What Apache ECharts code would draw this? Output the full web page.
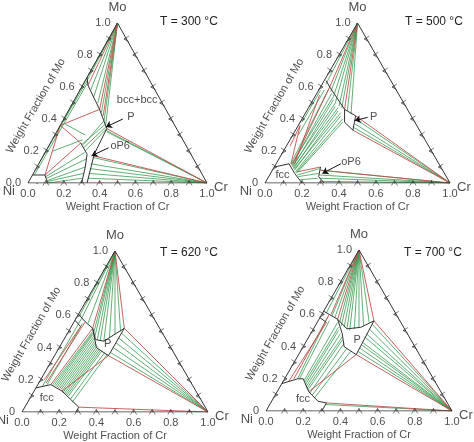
<!DOCTYPE html>
<html>
<head>
<meta charset="utf-8">
<script src="https://cdn.jsdelivr.net/npm/echarts@6/dist/echarts.min.js"></script>
<style>
  html, body { margin: 0; padding: 0; background: #fff; }
  #main { width: 474px; height: 442px; }
</style>
</head>
<body>
<div id="main"></div>
<script>
// compositions are [Cr, Mo] weight fractions (Ni = remainder)
const MO = [0, 1];
const CR = [1, 0];
const temps = ['300', '500', '620', '700'];
const bottomLabels = ['0.0', '0.2', '0.4', '0.6', '0.8', '1.0'];
const bottomValues = [0, 0.2, 0.4, 0.6, 0.8, 1.0];
const tickValues = [0.1, 0.2, 0.3, 0.4, 0.5, 0.6, 0.7, 0.8, 0.9];

// ---- T = 300 C
const p1Black = [
  [[0, 0.05], [0.07, 0.05], [0.11, 0]],
  [[0.17, 0.25], [0.24, 0.18], [0.27, 0.1], [0.30, 0]],
  [[0.27, 0.34], [0.28, 0.18], [0.33, 0]],
  [[0, 0.66], [0.03, 0.61], [0.17, 0.46], [0.27, 0.34]]
];
const p1Red = [
  [[0, 0.36], [0.17, 0.46]], [[0, 0.36], [0.17, 0.25]], [[0.17, 0.25], [0.07, 0.05]],
  [[0, 0.36], [0.07, 0.05]], [MO, [0.17, 0.46]], [MO, [0.03, 0.61]], [MO, [0.21, 0.42]],
  [CR, [0.27, 0.34]], [CR, [0.28, 0.17]]
];
const p1MoFan = [[0.19, 0.44], [0.23, 0.39], [0.25, 0.37], [0.06, 0.58], [0.1, 0.53], [0.14, 0.5], [0.01, 0.64], [0.0, 0.4]];
const p1CrFan = [[0.28, 0.16], [0.29, 0.12], [0.30, 0.09], [0.31, 0.06], [0.32, 0.03], [0.27, 0.33], [0.28, 0.32]];
const p1Ties = [
  [[0.02, 0.63], [0.01, 0.05]], [[0.01, 0.64], [0.0, 0.12]],
  [[0.18, 0.24], [0.25, 0.37]], [[0.2, 0.22], [0.26, 0.35]], [[0.22, 0.2], [0.27, 0.34]], [[0.19, 0.24], [0.23, 0.39]],
  [[0.02, 0.37], [0.17, 0.3]], [[0.04, 0.2], [0.17, 0.27]],
  [[0.08, 0.04], [0.22, 0.19]], [[0.09, 0.03], [0.25, 0.15]], [[0.10, 0.015], [0.27, 0.1]],
  [[0.105, 0.01], [0.28, 0.06]], [[0.11, 0], [0.29, 0.03]]
];

// ---- T = 500 C
const p2Black = [
  [[0, 0.1], [0.07, 0.12], [0.13, 0.06], [0.2, 0]],
  [[0.25, 0.10], [0.27, 0.04], [0.32, 0]],
  [[0.2, 0.46], [0.28, 0.42], [0.31, 0.33], [0.24, 0.38], [0.2, 0.46]],
  [[0.01, 0.64], [0.05, 0.6], [0.2, 0.46]]
];
const p2Red = [
  [[0.01, 0.36], [0.08, 0.12]], [[0.01, 0.36], [0.02, 0.23]], [[0.05, 0.6], [0.09, 0.12]], [[0.02, 0.55], [0.1, 0.12]],
  [MO, [0.2, 0.46]], [MO, [0.05, 0.6]], [CR, [0.28, 0.42]], [CR, [0.31, 0.33]], [CR, [0.26, 0.08]],
  [[0.14, 0.07], [0.25, 0.1]]
];
const p2MoFan = [[0.07, 0.57], [0.1, 0.54], [0.13, 0.5], [0.16, 0.48], [0.18, 0.47], [0.22, 0.45], [0.25, 0.43], [0.02, 0.62]];
const p2CrFan = [[0.29, 0.4], [0.3, 0.37], [0.3, 0.35], [0.26, 0.08], [0.27, 0.05], [0.28, 0.03], [0.3, 0.01]];
const p2Ties = [
  [[0.08, 0.12], [0.05, 0.59]], [[0.09, 0.11], [0.08, 0.56]], [[0.1, 0.1], [0.11, 0.52]], [[0.11, 0.09], [0.14, 0.48]],
  [[0.12, 0.08], [0.17, 0.45]], [[0.13, 0.07], [0.2, 0.42]], [[0.14, 0.06], [0.23, 0.38]], [[0.085, 0.115], [0.1, 0.54]],
  [[0.095, 0.105], [0.13, 0.5]], [[0.105, 0.095], [0.16, 0.47]], [[0.115, 0.085], [0.19, 0.44]], [[0.135, 0.065], [0.22, 0.4]],
  [[0.15, 0.05], [0.25, 0.09]], [[0.16, 0.04], [0.26, 0.06]], [[0.18, 0.02], [0.27, 0.03]],
  [[0.01, 0.58], [0.01, 0.38]], [[0.03, 0.58], [0.03, 0.3]]
];

// ---- T = 620 C
const p3Black = [
  [[0, 0.15], [0.07, 0.17], [0.15, 0.13], [0.22, 0.08], [0.29, 0.03], [0.29, 0]],
  [[0.12, 0.52], [0.17, 0.45], [0.22, 0.44], [0.29, 0.52]],
  [[0.12, 0.52], [0.2, 0.4], [0.29, 0.35]], [[0.29, 0.52], [0.29, 0.35]],
  [[0.01, 0.6], [0.06, 0.56], [0.12, 0.52]], [[0.0, 0.57], [0.05, 0.53]]
];
const p3Red = [
  [MO, [0.29, 0.52]], [MO, [0.12, 0.52]], [CR, [0.29, 0.52]], [CR, [0.29, 0.35]], [CR, [0.29, 0.03]],
  [[0.07, 0.17], [0.12, 0.52]], [[0.15, 0.13], [0.29, 0.35]], [[0.02, 0.2], [0.05, 0.53]], [[0.04, 0.18], [0.06, 0.56]]
];
const p3MoFan = [[0.14, 0.49], [0.16, 0.46], [0.18, 0.45], [0.2, 0.44], [0.22, 0.44], [0.24, 0.46], [0.26, 0.48], [0.28, 0.5], [0.01, 0.6], [0.03, 0.58], [0.08, 0.55]];
const p3CrFan = [[0.29, 0.49], [0.29, 0.46], [0.29, 0.43], [0.29, 0.4], [0.29, 0.37]];
const p3Ties = [
  [[0.08, 0.17], [0.13, 0.5]], [[0.1, 0.16], [0.14, 0.48]], [[0.12, 0.15], [0.16, 0.46]], [[0.14, 0.14], [0.18, 0.43]],
  [[0.16, 0.12], [0.2, 0.41]], [[0.18, 0.11], [0.22, 0.39]], [[0.2, 0.1], [0.24, 0.38]], [[0.22, 0.08], [0.26, 0.37]],
  [[0.24, 0.06], [0.28, 0.36]], [[0.09, 0.165], [0.135, 0.49]], [[0.11, 0.155], [0.15, 0.47]], [[0.13, 0.145], [0.17, 0.44]],
  [[0.15, 0.13], [0.19, 0.42]], [[0.17, 0.115], [0.21, 0.4]], [[0.19, 0.105], [0.23, 0.385]],
  [[0.03, 0.58], [0.03, 0.16]], [[0.05, 0.55], [0.05, 0.17]]
];

// ---- T = 700 C
const p4Black = [
  [[0, 0.17], [0.07, 0.2], [0.1, 0.2], [0.17, 0.12], [0.25, 0.06], [0.3, 0.05], [0.3, 0]],
  [[0.1, 0.57], [0.18, 0.51], [0.25, 0.52], [0.3, 0.56]],
  [[0.3, 0.56], [0.31, 0.35]], [[0.1, 0.57], [0.17, 0.48], [0.22, 0.4], [0.31, 0.35]],
  [[0.0, 0.62], [0.04, 0.6], [0.1, 0.57]], [[0.0, 0.58], [0.05, 0.55]]
];
const p4Red = [
  [MO, [0.3, 0.56]], [MO, [0.1, 0.57]], [MO, [0.05, 0.6]], [CR, [0.3, 0.56]], [CR, [0.31, 0.35]],
  [[0.3, 0.05], CR], [[0.17, 0.12], [0.31, 0.35]], [[0.05, 0.2], [0.04, 0.6]], [[0.03, 0.18], [0.05, 0.55]]
];
const p4MoFan = [[0.12, 0.55], [0.14, 0.53], [0.16, 0.52], [0.18, 0.51], [0.2, 0.5], [0.22, 0.51], [0.24, 0.52], [0.26, 0.53], [0.28, 0.55], [0.02, 0.61], [0.06, 0.59], [0.08, 0.58]];
const p4CrFan = [[0.3, 0.54], [0.3, 0.51], [0.3, 0.48], [0.3, 0.46], [0.3, 0.43], [0.31, 0.41], [0.31, 0.39], [0.31, 0.37], [0.3, 0.04]];
const p4Ties = [
  [[0.11, 0.19], [0.11, 0.55]], [[0.12, 0.18], [0.13, 0.52]], [[0.13, 0.16], [0.14, 0.5]], [[0.14, 0.15], [0.16, 0.48]],
  [[0.15, 0.14], [0.18, 0.46]], [[0.16, 0.13], [0.19, 0.44]], [[0.18, 0.11], [0.21, 0.42]], [[0.2, 0.1], [0.24, 0.39]],
  [[0.22, 0.08], [0.27, 0.37]], [[0.04, 0.58], [0.07, 0.2]], [[0.06, 0.56], [0.08, 0.2]]
];

// phase labels [Cr, Mo, text] and arrows
const p1Labels = [[0.35, 0.52, 'bcc+bcc'], [0.37, 0.41, 'P'], [0.4, 0.23, 'oP6'], [0.14, -0.1, 'fcc']];
const p1Arrows = [[[0.33, 0.40], [0.26, 0.35]], [[0.34, 0.22], [0.27, 0.17]], [[0.1, -0.07], [0.05, 0]]];
const p2Labels = [[0.38, 0.415, 'P'], [0.40, 0.13, 'oP6'], [0.07, 0.05, 'fcc']];
const p2Arrows = [[[0.35, 0.41], [0.29, 0.39]], [[0.35, 0.12], [0.28, 0.06]]];
const p3Labels = [[0.25, 0.42, 'P'], [0.09, 0.087, 'fcc']];
const p4Labels = [[0.27, 0.44, 'P'], [0.16, 0.077, 'fcc']];

const panels = [
  { grid: { left: 28, top: 23, width: 179, height: 160 }, black: p1Black, red: p1Red, moFan: p1MoFan, crFan: p1CrFan, ties: p1Ties, labels: p1Labels, arrows: p1Arrows, zero: '0.0', tpos: [160, 16] },
  { grid: { left: 265, top: 23, width: 185, height: 160 }, black: p2Black, red: p2Red, moFan: p2MoFan, crFan: p2CrFan, ties: p2Ties, labels: p2Labels, arrows: p2Arrows, zero: '0', tpos: [405, 16] },
  { grid: { left: 22, top: 251, width: 186, height: 161 }, black: p3Black, red: p3Red, moFan: p3MoFan, crFan: p3CrFan, ties: p3Ties, labels: p3Labels, arrows: [], zero: '0', tpos: [160, 247] },
  { grid: { left: 266, top: 250, width: 186, height: 161 }, black: p4Black, red: p4Red, moFan: p4MoFan, crFan: p4CrFan, ties: p4Ties, labels: p4Labels, arrows: [], zero: '0', tpos: [404, 247] }
];

// ternary -> plot coordinates
const xy = p => [p[0] + p[1] / 2, p[1]];
const FONT = 'Liberation Sans, Arial, sans-serif';
const GREEN = '#3a9a50', RED = '#c0504d', DARK = '#333';

const grids = [], xAxes = [], yAxes = [], series = [], graphics = [];

panels.forEach((pn, i) => {
  grids.push(pn.grid);
  xAxes.push({ gridIndex: i, type: 'value', min: 0, max: 1, show: false });
  yAxes.push({ gridIndex: i, type: 'value', min: 0, max: 1, show: false });
  const ax = { xAxisIndex: i, yAxisIndex: i };
  const lines = (segs, color, width, z) => ({
    type: 'lines', coordinateSystem: 'cartesian2d', ...ax, polyline: true, silent: true, z: z,
    lineStyle: { color: color, width: width, opacity: 1 },
    data: segs.map(s => ({ coords: s.map(xy) }))
  });
  const green = pn.ties.concat(pn.moFan.map(p => [MO, p]), pn.crFan.map(p => [CR, p]));
  series.push(lines(green, GREEN, 0.8, 2));
  series.push(lines(pn.red, RED, 0.9, 3));
  series.push(lines(pn.black, DARK, 1, 4));
  series.push(lines([[[0, 0], [1, 0], [0, 1], [0, 0]]], DARK, 1, 5));
  if (pn.arrows.length) {
    series.push({
      type: 'lines', coordinateSystem: 'cartesian2d', ...ax, silent: true, z: 6,
      symbol: ['none', 'arrow'], symbolSize: 6,
      lineStyle: { color: '#111', width: 1, opacity: 1 },
      data: pn.arrows.map(s => ({ coords: s.map(xy) }))
    });
  }
  // edge ticks
  const tick = (pts, rot) => ({
    type: 'scatter', ...ax, silent: true, z: 5,
    symbol: 'path://M0,10 L5,0 L10,10 M5,0 L5,6', symbolSize: [6, 5], symbolRotate: rot,
    itemStyle: { color: 'none', borderColor: DARK, borderWidth: 0.8 },
    data: pts
  });
  series.push(tick(tickValues.map(c => xy([c, 0])), 0));
  series.push(tick(tickValues.map(m => xy([0, m])), -90));
  series.push(tick(tickValues.map(m => xy([1 - m, m])), 90));
  // tick labels
  const txt = (data, pos, offset, extra) => ({
    type: 'scatter', ...ax, silent: true, symbolSize: 0, z: 7,
    label: Object.assign({ show: true, position: pos, offset: offset, color: '#222', fontSize: 11, fontFamily: FONT, formatter: p => p.data[2] }, extra || {}),
    data: data
  });
  series.push(txt(bottomValues.map((v, k) => [v, 0, bottomLabels[k]]), 'bottom', [0, 0]));
  series.push(txt(bottomValues.map((v, k) => [v / 2, v, k === 0 ? pn.zero : bottomLabels[k]]), 'left', [-2, 0]));
  series.push(txt([[0, 0, 'Ni']], 'left', [-8, 8], { fontSize: 13 }));
  series.push(txt([[1, 0, 'Cr']], 'right', [2, 4], { fontSize: 13 }));
  series.push(txt([[0.5, 1, 'Mo']], 'top', [0, -4], { fontSize: 13 }));
  series.push(txt([[0.5, 0, 'Weight Fraction of Cr']], 'bottom', [0, 13]));
  series.push(txt([[0.22, 0.5, 'Weight Fraction of Mo']], 'left', [-8, -4], { rotate: 60, align: 'center', verticalAlign: 'middle', position: [-24, -2] }));
  series.push(txt(pn.labels.map(l => xy([l[0], l[1]]).concat([l[2]])), 'inside', [0, 0], { fontSize: 11 }));
  graphics.push({
    type: 'text', left: pn.tpos[0], top: pn.tpos[1],
    style: { text: 'T = ' + temps[i] + ' °C', fontSize: 12, fontFamily: FONT, fill: '#222' }
  });
});

const chart = echarts.init(document.getElementById('main'));
chart.setOption({
  animation: false,
  backgroundColor: '#fff',
  grid: grids, xAxis: xAxes, yAxis: yAxes,
  series: series,
  graphic: graphics
});
</script>
</body>
</html>
